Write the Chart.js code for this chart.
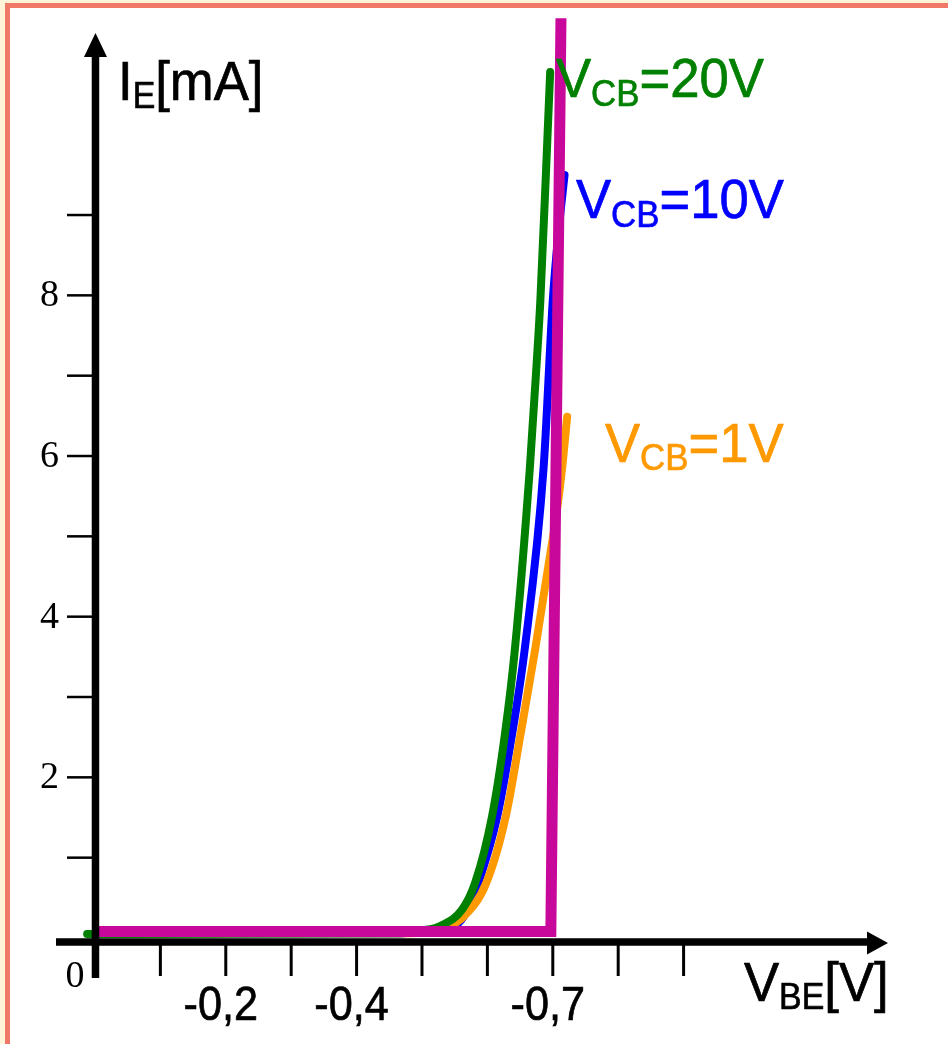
<!DOCTYPE html>
<html>
<head>
<meta charset="utf-8">
<script src="https://cdn.jsdelivr.net/npm/chart.js@4.4.0/dist/chart.umd.min.js"></script>
<style>
  html, body { margin: 0; padding: 0; background: #fff; }
  canvas { display: block; }
</style>
</head>
<body>
<canvas id="chart" width="948" height="1044"></canvas>
<script>
// Input characteristic I_E(V_BE)
const vbe20 = [-0.012, 0.466, 0.505, 0.528, 0.561, 0.581, 0.607, 0.627, 0.642, 0.665, 0.675, 0.681, 0.691, 0.696];
const ie20  = [0.05, 0.06, 0.10, 0.15, 0.35, 0.68, 1.51, 2.55, 3.59, 5.86, 7.11, 7.94, 9.81, 10.78];

const vbe10 = [0.0, 0.47, 0.52, 0.550, 0.570, 0.586, 0.615, 0.638, 0.657, 0.686, 0.700, 0.709, 0.718];
const ie10  = [0.06, 0.06, 0.10, 0.15, 0.35, 0.68, 1.51, 2.55, 3.59, 5.86, 7.94, 8.81, 9.50];

const vbe1 = [0.0, 0.48, 0.528, 0.543, 0.563, 0.598, 0.628, 0.651, 0.673, 0.685, 0.696, 0.705, 0.714, 0.722];
const ie1  = [0.06, 0.06, 0.10, 0.15, 0.26, 0.68, 1.51, 2.55, 3.59, 4.21, 4.77, 5.24, 5.83, 6.49];

// idealised diode (magenta)
const vbeIdeal = [0.003, 0.697, 0.7125];
const ieIdeal  = [0.081, 0.081, 11.45];

// axis ticks
const xTickValues = [0.1, 0.2, 0.3, 0.4, 0.5, 0.6, 0.7, 0.8, 0.9];
const xTickLabels = ['', '-0,2', '', '-0,4', '', '', '-0,7', '', ''];
const yTickValues = [1, 2, 3, 4, 5, 6, 7, 8, 9];
const yTickLabels = ['', '2', '', '4', '', '6', '', '8', ''];

const SANS = '"Liberation Sans", Arial, sans-serif';
const SERIF = '"Liberation Serif", "Times New Roman", serif';
const SQUEEZE = 0.94;

function toPoints(xs, ys) {
    return xs.map((x, i) => ({ x: x, y: ys[i] }));
}

// text with subscripts, slightly condensed like the original
function drawRun(ctx, x, y, parts, color) {
    ctx.fillStyle = color;
    ctx.strokeStyle = color;
    ctx.lineWidth = 0.7;
    ctx.textAlign = 'left';
    ctx.textBaseline = 'alphabetic';
    let cx = x;
    parts.forEach(p => {
        ctx.font = p.size + 'px ' + SANS;
        ctx.save();
        ctx.translate(cx, y + (p.dy || 0));
        ctx.scale(SQUEEZE, 1);
        ctx.fillText(p.text, 0, 0);
        ctx.strokeText(p.text, 0, 0);
        ctx.restore();
        cx += ctx.measureText(p.text).width * SQUEEZE;
    });
}

const framePlugin = {
    id: 'frame',
    beforeDraw(chart) {
        const ctx = chart.ctx;
        ctx.save();
        ctx.fillStyle = '#ffffff';
        ctx.fillRect(0, 0, chart.width, chart.height);
        ctx.fillStyle = '#fff3d8';
        ctx.fillRect(0, 0, chart.width, 3);
        ctx.fillRect(0, 0, 5, chart.height);
        ctx.fillStyle = '#f07866';
        ctx.fillRect(5, 3, chart.width - 5, 5);
        ctx.fillRect(5, 3, 5, chart.height - 3);
        ctx.restore();
    }
};

const axesPlugin = {
    id: 'axes',
    afterDatasetsDraw(chart) {
        const ctx = chart.ctx;
        const xs = chart.scales.x;
        const ys = chart.scales.y;
        const x0 = xs.getPixelForValue(0) + 0.5;
        const y0 = ys.getPixelForValue(0);
        const axisY = y0 + 4;
        ctx.save();
        ctx.fillStyle = '#000';
        ctx.strokeStyle = '#000';

        // y axis + arrow
        ctx.lineWidth = 7.5;
        ctx.beginPath();
        ctx.moveTo(x0, 978);
        ctx.lineTo(x0, 52);
        ctx.stroke();
        ctx.beginPath();
        ctx.moveTo(x0, 33);
        ctx.lineTo(x0 - 11.5, 57);
        ctx.lineTo(x0 + 11.5, 57);
        ctx.closePath();
        ctx.fill();

        // x axis + arrow
        ctx.beginPath();
        ctx.moveTo(56, axisY);
        ctx.lineTo(870, axisY);
        ctx.stroke();
        ctx.beginPath();
        ctx.moveTo(888, axisY + 1);
        ctx.lineTo(867, axisY - 10.5);
        ctx.lineTo(867, axisY + 12.5);
        ctx.closePath();
        ctx.fill();

        // y ticks
        ctx.lineWidth = 2.5;
        yTickValues.forEach(v => {
            const py = ys.getPixelForValue(v);
            ctx.beginPath();
            ctx.moveTo(67, py);
            ctx.lineTo(x0, py);
            ctx.stroke();
        });
        // x ticks
        ctx.lineWidth = 3;
        xTickValues.forEach(v => {
            const px = xs.getPixelForValue(v);
            ctx.beginPath();
            ctx.moveTo(px, axisY - 3);
            ctx.lineTo(px, 976);
            ctx.stroke();
        });

        // y tick labels (serif)
        ctx.font = '38px ' + SERIF;
        ctx.textAlign = 'right';
        ctx.textBaseline = 'middle';
        yTickValues.forEach((v, i) => {
            if (yTickLabels[i]) ctx.fillText(yTickLabels[i], 59, ys.getPixelForValue(v) + 1);
        });
        ctx.textAlign = 'center';
        ctx.fillText('0', 75, 977);

        // x tick labels
        ctx.font = '48px ' + SANS;
        ctx.textBaseline = 'alphabetic';
        ctx.lineWidth = 0.7;
        xTickValues.forEach((v, i) => {
            if (!xTickLabels[i]) return;
            const px = xs.getPixelForValue(v) - 5;
            ctx.save();
            ctx.translate(px, 1020);
            ctx.scale(0.9, 1);
            ctx.fillText(xTickLabels[i], 0, 0);
            ctx.strokeText(xTickLabels[i], 0, 0);
            ctx.restore();
        });

        // axis titles
        drawRun(ctx, 118, 100, [
            { text: 'I', size: 56 },
            { text: 'E', size: 36, dy: 8 },
            { text: '[mA]', size: 56 }
        ], '#000');
        drawRun(ctx, 744, 1001, [
            { text: 'V', size: 56 },
            { text: 'BE', size: 36, dy: 8 },
            { text: '[V]', size: 56 }
        ], '#000');

        // curve labels
        drawRun(ctx, 556, 97, [
            { text: 'V', size: 56 },
            { text: 'CB', size: 37, dy: 9 },
            { text: '=20V', size: 56 }
        ], '#008000');
        drawRun(ctx, 576, 218, [
            { text: 'V', size: 56 },
            { text: 'CB', size: 37, dy: 9 },
            { text: '=10V', size: 56 }
        ], '#0000ff');
        drawRun(ctx, 605, 462, [
            { text: 'V', size: 56 },
            { text: 'CB', size: 37, dy: 8 },
            { text: '=1V', size: 56 }
        ], '#ff9900');

        ctx.restore();
    }
};

const curveStyle = {
    pointRadius: 0,
    borderWidth: 8,
    borderCapStyle: 'round',
    borderJoinStyle: 'round',
    cubicInterpolationMode: 'monotone',
    fill: false
};

const ctx = document.getElementById('chart').getContext('2d');
const chart = new Chart(ctx, {
    type: 'line',
    data: {
        datasets: [
            {
                label: 'ideal',
                data: toPoints(vbeIdeal, ieIdeal),
                borderColor: '#c8089a',
                borderWidth: 11,
                borderCapStyle: 'butt',
                borderJoinStyle: 'miter',
                pointRadius: 0,
                tension: 0,
                order: 0
            },
            Object.assign({ label: 'VCB=20V', data: toPoints(vbe20, ie20), borderColor: '#008000', order: 1 }, curveStyle),
            Object.assign({ label: 'VCB=1V', data: toPoints(vbe1, ie1), borderColor: '#ff9900', order: 2 }, curveStyle),
            Object.assign({ label: 'VCB=10V', data: toPoints(vbe10, ie10), borderColor: '#0000ff', order: 3 }, curveStyle)
        ]
    },
    options: {
        responsive: false,
        animation: false,
        devicePixelRatio: 1,
        layout: {
            padding: { left: 81.9, right: 68.2, top: 14.2, bottom: 106 }
        },
        scales: {
            x: { type: 'linear', min: -0.02, max: 1.2, display: false },
            y: { type: 'linear', min: 0, max: 11.5, display: false }
        },
        plugins: {
            legend: { display: false },
            tooltip: { enabled: false }
        }
    },
    plugins: [framePlugin, axesPlugin]
});
</script>
</body>
</html>
